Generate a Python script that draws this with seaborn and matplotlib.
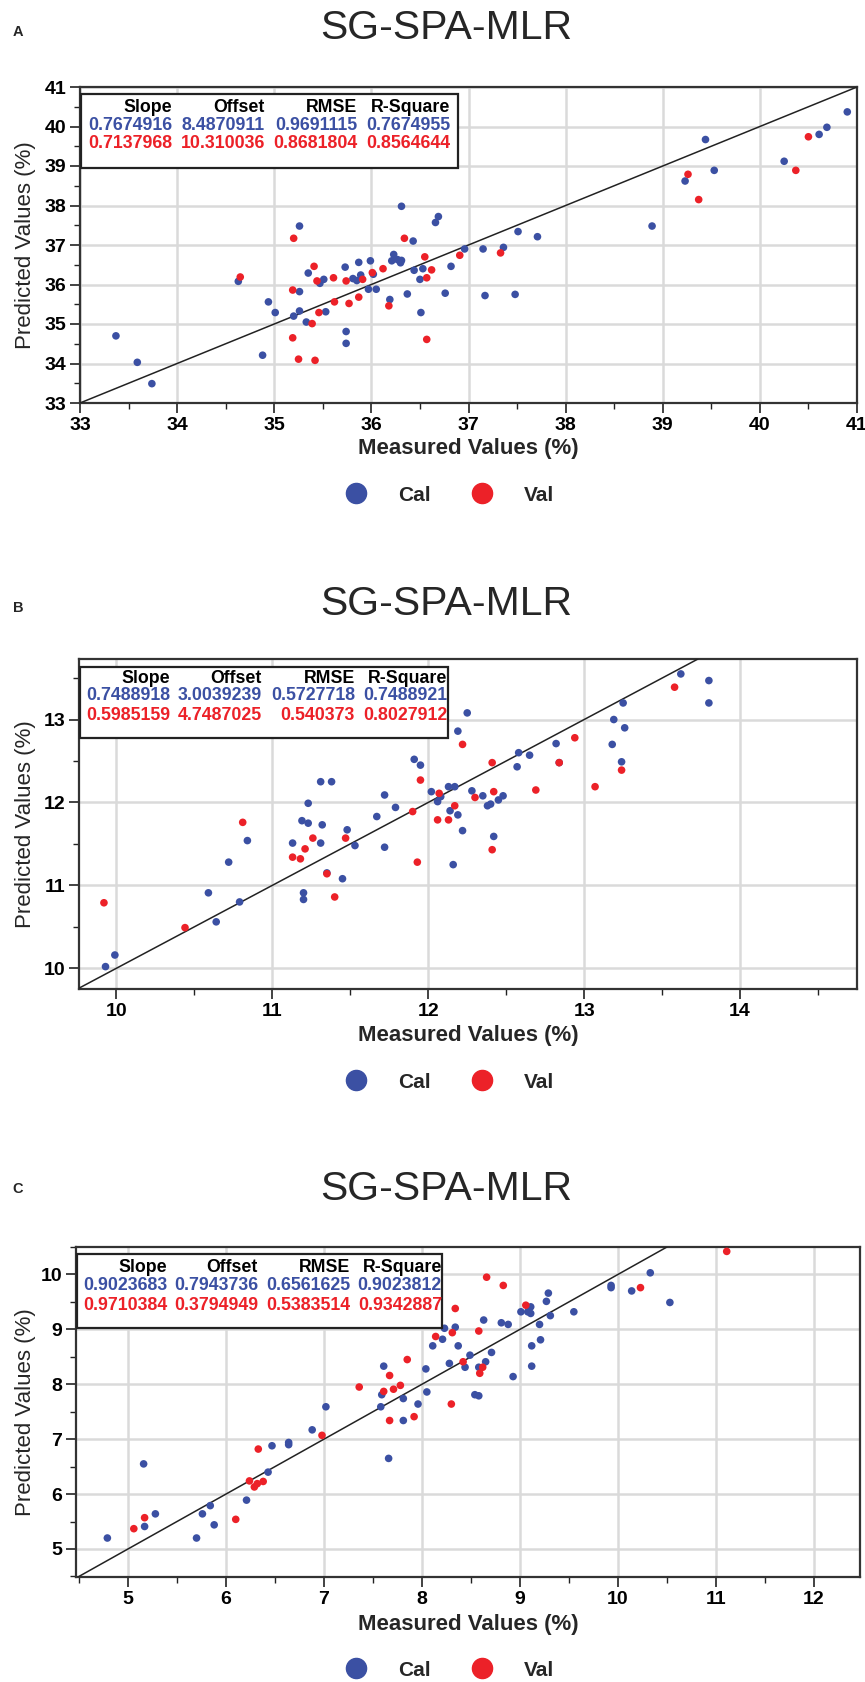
import numpy as np
import pandas as pd
import matplotlib
matplotlib.use("Agg")
import matplotlib.pyplot as plt
from matplotlib.lines import Line2D
from matplotlib.patches import Rectangle
import seaborn as sns

# ------------------------
# data
# ------------------------
# panel A
a_cal_x = [33.37, 33.59, 33.74, 34.63, 34.88, 34.94, 35.01, 35.20, 35.26, 35.26, 35.26, 35.33,
           35.35, 35.47, 35.51, 35.53, 35.73, 35.74, 35.74, 35.81, 35.85, 35.87, 35.89, 35.97,
           35.99, 36.02, 36.05, 36.19, 36.21, 36.23, 36.27, 36.30, 36.31, 36.31, 36.37, 36.43,
           36.44, 36.50, 36.51, 36.53, 36.66, 36.69, 36.76, 36.82, 36.96, 37.15, 37.17, 37.36,
           37.48, 37.51, 37.71, 38.89, 39.23, 39.44, 39.53, 40.25, 40.61, 40.69, 40.90]
a_cal_y = [34.70, 34.03, 33.49, 36.08, 34.21, 35.56, 35.29, 35.20, 37.48, 35.82, 35.33, 35.05,
           36.29, 36.03, 36.13, 35.31, 36.44, 34.81, 34.51, 36.15, 36.10, 36.56, 36.24, 35.88,
           36.60, 36.26, 35.88, 35.62, 36.60, 36.76, 36.63, 36.55, 37.98, 36.61, 35.76, 37.10,
           36.36, 36.13, 35.29, 36.40, 37.57, 37.72, 35.78, 36.46, 36.90, 36.90, 35.72, 36.94,
           35.75, 37.34, 37.21, 37.48, 38.62, 39.67, 38.89, 39.12, 39.80, 39.98, 40.37]
a_val_x = [34.65, 35.19, 35.20, 35.19, 35.25, 35.39, 35.41, 35.42, 35.44, 35.46, 35.61, 35.62,
           35.74, 35.77, 35.87, 35.91, 36.01, 36.12, 36.18, 36.34, 36.55, 36.57, 36.57, 36.62,
           36.91, 37.33, 39.26, 39.37, 40.37, 40.50]
a_val_y = [36.19, 35.86, 37.17, 34.65, 34.11, 35.01, 36.46, 34.08, 36.09, 35.29, 36.17, 35.56,
           36.09, 35.52, 35.68, 36.13, 36.30, 36.40, 35.46, 37.17, 36.70, 36.17, 34.61, 36.37,
           36.74, 36.80, 38.79, 38.15, 38.89, 39.74]

# panel B
b_cal_x = [9.93, 9.99, 10.59, 10.64, 10.72, 10.79, 10.84, 11.13, 11.19, 11.20, 11.20, 11.23,
           11.23, 11.31, 11.31, 11.32, 11.35, 11.38, 11.45, 11.48, 11.53, 11.67, 11.72, 11.72,
           11.79, 11.91, 11.95, 12.02, 12.06, 12.08, 12.13, 12.14, 12.17, 12.16, 12.19, 12.19,
           12.22, 12.25, 12.28, 12.35, 12.38, 12.40, 12.42, 12.45, 12.48, 12.57, 12.58, 12.65,
           12.82, 12.84, 13.18, 13.19, 13.24, 13.25, 13.26, 13.62, 13.80, 13.80]
b_cal_y = [10.02, 10.16, 10.91, 10.56, 11.28, 10.80, 11.54, 11.51, 11.78, 10.91, 10.83, 11.99,
           11.75, 12.25, 11.51, 11.73, 11.15, 12.25, 11.08, 11.67, 11.48, 11.83, 12.09, 11.46,
           11.94, 12.52, 12.45, 12.13, 12.01, 12.07, 12.19, 11.90, 12.19, 11.25, 12.86, 11.85,
           11.66, 13.08, 12.14, 12.08, 11.96, 11.98, 11.59, 12.03, 12.08, 12.43, 12.60, 12.57,
           12.71, 12.48, 12.70, 13.00, 12.49, 13.20, 12.90, 13.55, 13.47, 13.20]
b_val_x = [9.92, 10.44, 10.81, 11.13, 11.18, 11.21, 11.26, 11.35, 11.40, 11.47, 11.90, 11.93,
           11.95, 12.06, 12.07, 12.13, 12.17, 12.22, 12.30, 12.41, 12.42, 12.41, 12.69, 12.84,
           12.94, 13.07, 13.24, 13.58]
b_val_y = [10.79, 10.49, 11.76, 11.34, 11.32, 11.44, 11.57, 11.14, 10.86, 11.57, 11.89, 11.28,
           12.27, 11.79, 12.11, 11.79, 11.96, 12.70, 12.06, 12.48, 12.13, 11.43, 12.15, 12.48,
           12.78, 12.19, 12.39, 13.39]

# panel C
c_cal_x = [4.79, 5.16, 5.17, 5.28, 5.70, 5.76, 5.84, 5.88, 6.21, 6.43, 6.47, 6.64, 6.64, 6.88,
           7.02, 7.58, 7.59, 7.61, 7.66, 7.81, 7.81, 7.96, 8.04, 8.05, 8.11, 8.21, 8.23, 8.28,
           8.34, 8.37, 8.44, 8.49, 8.54, 8.58, 8.58, 8.63, 8.65, 8.71, 8.81, 8.88, 8.93, 9.01,
           9.08, 9.11, 9.11, 9.12, 9.12, 9.20, 9.21, 9.27, 9.29, 9.31, 9.55, 9.93, 9.93, 10.14,
           10.33, 10.53]
c_cal_y = [5.20, 6.55, 5.41, 5.64, 5.20, 5.64, 5.79, 5.44, 5.89, 6.40, 6.88, 6.94, 6.90, 7.17,
           7.59, 7.59, 7.81, 8.33, 6.65, 7.74, 7.34, 7.64, 8.28, 7.86, 8.70, 8.82, 9.02, 8.38,
           9.04, 8.70, 8.31, 8.53, 7.81, 7.79, 8.31, 9.17, 8.41, 8.58, 9.12, 9.09, 8.14, 9.32,
           9.32, 9.41, 9.29, 8.33, 8.70, 9.09, 8.81, 9.51, 9.66, 9.25, 9.32, 9.80, 9.76, 9.70,
           10.03, 9.49]
c_val_x = [5.06, 5.17, 6.10, 6.24, 6.29, 6.32, 6.33, 6.38, 6.98, 7.36, 7.61, 7.67, 7.67, 7.71,
           7.78, 7.85, 7.92, 8.14, 8.30, 8.31, 8.34, 8.42, 8.58, 8.59, 8.62, 8.66, 8.83, 9.06,
           10.23, 11.11]
c_val_y = [5.37, 5.57, 5.54, 6.24, 6.13, 6.19, 6.82, 6.23, 7.07, 7.95, 7.87, 8.16, 7.34, 7.91,
           7.98, 8.45, 7.41, 8.87, 7.64, 8.94, 9.38, 8.41, 8.97, 8.20, 8.31, 9.95, 9.80, 9.44,
           9.76, 10.42]

# stats tables (kept as text so the printed digits stay as in the figure)
stat_header = ["Slope", "Offset", "RMSE", "R-Square"]
a_stats_cal = ["0.7674916", "8.4870911", "0.9691115", "0.7674955"]
a_stats_val = ["0.7137968", "10.310036", "0.8681804", "0.8564644"]
b_stats_cal = ["0.7488918", "3.0039239", "0.5727718", "0.7488921"]
b_stats_val = ["0.5985159", "4.7487025", "0.540373", "0.8027912"]
c_stats_cal = ["0.9023683", "0.7943736", "0.6561625", "0.9023812"]
c_stats_val = ["0.9710384", "0.3794949", "0.5383514", "0.9342887"]

# ------------------------
# style
# ------------------------
BLUE = "#3B50A3"
RED = "#EC2128"
W, H = 865, 1682

sns.set_style("white")
plt.rcParams["font.family"] = ["Liberation Sans", "DejaVu Sans"]

fig = plt.figure(figsize=(W / 100, H / 100), dpi=100)


def px_rect(left, right, top, bottom):
    return [left / W, 1 - bottom / H, (right - left) / W, (bottom - top) / H]


def draw_panel(cfg):
    left, right, top, bottom = cfg["axes_px"]
    ax = fig.add_axes(px_rect(left, right, top, bottom))
    aw, ah = right - left, bottom - top

    df = pd.DataFrame({
        "Measured": cfg["cal_x"] + cfg["val_x"],
        "Predicted": cfg["cal_y"] + cfg["val_y"],
        "Set": ["Cal"] * len(cfg["cal_x"]) + ["Val"] * len(cfg["val_x"]),
    })
    sns.scatterplot(data=df, x="Measured", y="Predicted", hue="Set",
                    palette={"Cal": BLUE, "Val": RED}, s=30, linewidth=0,
                    legend=False, ax=ax, zorder=4)

    ax.set_xlim(*cfg["xlim"])
    ax.set_ylim(*cfg["ylim"])
    ax.axline((cfg["xlim"][0], cfg["xlim"][0]), slope=1, color="#222222", lw=1.1, zorder=3)

    ax.set_xticks(cfg["xticks"])
    ax.set_xticks(cfg["xticks_minor"], minor=True)
    ax.set_yticks(cfg["yticks"])
    ax.set_yticks(cfg["yticks_minor"], minor=True)
    ax.set_xticklabels([str(t) for t in cfg["xticks"]])
    ax.set_yticklabels([str(t) for t in cfg["yticks"]])
    ax.tick_params(which="major", direction="out", length=7, width=1.2, colors="#222222",
                   labelsize=14, pad=3, left=True, bottom=True)
    ax.tick_params(which="minor", direction="out", length=4, width=1.0, colors="#222222",
                   left=True, bottom=True)
    for lab in ax.get_xticklabels() + ax.get_yticklabels():
        lab.set_fontweight("bold")
        lab.set_color("black")

    ax.grid(True, which="major", color="#DADADA", linewidth=1.8)
    ax.set_axisbelow(True)
    for sp in ax.spines.values():
        sp.set_color("#333333")
        sp.set_linewidth(1.6)

    ax.set_xlabel("Measured Values (%)", fontsize=16, fontweight="bold")
    ax.set_ylabel("Predicted Values (%)", fontsize=16)
    ax.xaxis.set_label_coords(0.5, -(cfg["xlabel_top_px"] - bottom) / ah)
    ax.yaxis.set_label_coords(-(left - 36) / aw, 0.5)

    # stats box
    bx0, bx1, by0, by1 = cfg["box_px"]
    ax.add_patch(Rectangle(((bx0 - left) / aw, 1 - (by1 - top) / ah),
                           (bx1 - bx0) / aw, (by1 - by0) / ah,
                           transform=ax.transAxes, facecolor="white", edgecolor="#222222",
                           lw=1.6, zorder=6, clip_on=False))
    rows = [(stat_header, "black"), (cfg["stats_cal"], BLUE), (cfg["stats_val"], RED)]
    for (texts, color), ry in zip(rows, cfg["rows_px"]):
        for txt, cx in zip(texts, cfg["cols_px"]):
            ax.text((cx - left) / aw, 1 - (ry - top) / ah, txt, transform=ax.transAxes,
                    ha="right", va="center", fontsize=12.8, fontweight="bold",
                    color=color, zorder=7)

    # title, panel letter, legend
    fig.text(446 / W, 1 - cfg["title_px"] / H, "SG-SPA-MLR", ha="center", va="center",
             fontsize=29.5)
    fig.text(18 / W, 1 - cfg["letter_px"] / H, cfg["letter"], ha="center", va="center",
             fontsize=10.5, fontweight="bold")
    handles = [Line2D([], [], marker="o", linestyle="none", markersize=14.5, color=BLUE),
               Line2D([], [], marker="o", linestyle="none", markersize=14.5, color=RED)]
    fig.legend(handles, ["Cal", "Val"], loc="center", ncol=2, frameon=False,
               bbox_to_anchor=(450 / W, 1 - cfg["legend_px"] / H),
               prop={"weight": "bold", "size": 15}, handlelength=1.0,
               handletextpad=1.5, columnspacing=2.0)
    return ax


panels = [
    dict(letter="A", cal_x=a_cal_x, cal_y=a_cal_y, val_x=a_val_x, val_y=a_val_y,
         stats_cal=a_stats_cal, stats_val=a_stats_val,
         xlim=(33, 41), ylim=(33, 41),
         xticks=list(range(33, 42)), xticks_minor=np.arange(33.5, 41, 1),
         yticks=list(range(33, 42)), yticks_minor=np.arange(33.5, 41, 1),
         axes_px=(80, 857, 87, 403), xlabel_top_px=438,
         box_px=(81, 458, 94, 168), rows_px=(107, 126, 143), cols_px=(172, 265, 357, 450),
         title_px=28, letter_px=32, legend_px=495),
    dict(letter="B", cal_x=b_cal_x, cal_y=b_cal_y, val_x=b_val_x, val_y=b_val_y,
         stats_cal=b_stats_cal, stats_val=b_stats_val,
         xlim=(9.76, 14.75), ylim=(9.75, 13.73),
         xticks=list(range(10, 15)), xticks_minor=np.arange(10.5, 14.6, 1),
         yticks=list(range(10, 14)), yticks_minor=np.arange(10.5, 13.6, 1),
         axes_px=(79, 857, 659, 989), xlabel_top_px=1025,
         box_px=(80, 448, 667, 738), rows_px=(678, 696, 715), cols_px=(170, 262, 355, 447),
         title_px=604, letter_px=608, legend_px=1082),
    dict(letter="C", cal_x=c_cal_x, cal_y=c_cal_y, val_x=c_val_x, val_y=c_val_y,
         stats_cal=c_stats_cal, stats_val=c_stats_val,
         xlim=(4.47, 12.47), ylim=(4.49, 10.5),
         xticks=list(range(5, 13)), xticks_minor=np.arange(4.5, 12.4, 1),
         yticks=list(range(5, 11)), yticks_minor=np.arange(4.5, 10.6, 1),
         axes_px=(76, 860, 1247, 1577), xlabel_top_px=1614,
         box_px=(77, 442, 1254, 1328), rows_px=(1268, 1286, 1305), cols_px=(167, 258, 350, 442),
         title_px=1189, letter_px=1189, legend_px=1670),
]

for p in panels:
    draw_panel(p)

fig.savefig("out.png", dpi=100, facecolor="white")
